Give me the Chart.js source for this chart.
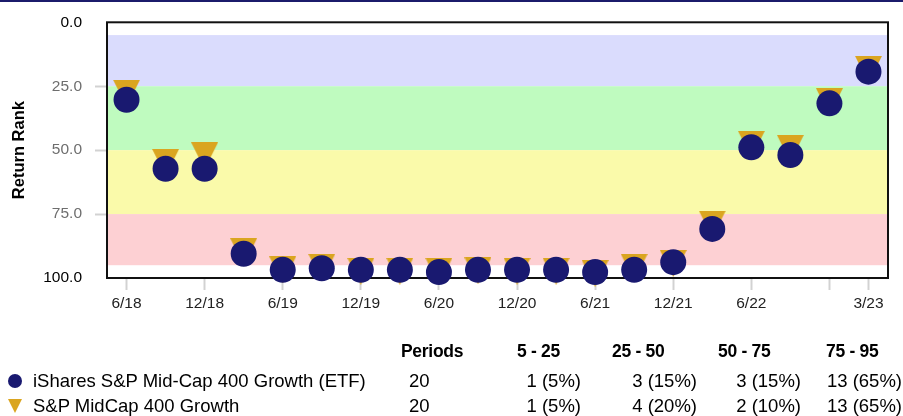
<!DOCTYPE html>
<html>
<head>
<meta charset="utf-8">
<script src="https://cdn.jsdelivr.net/npm/chart.js@4.4.1/dist/chart.umd.min.js"></script>
<style>
  html, body { margin: 0; padding: 0; background: #fff; }
  #wrap { position: relative; width: 903px; height: 416px; overflow: hidden;
          font-family: "Liberation Sans", Arial, sans-serif; }
  #topbar { position: absolute; left: 0; top: 0; width: 903px; height: 2px; background: #1b1b6b; }
  #chart { position: absolute; left: 0; top: 0; }
  .t { position: absolute; white-space: nowrap; line-height: 1; color: #000; }
  .hd { font-weight: bold; font-size: 17.5px; letter-spacing: -0.3px; }
  .rw { font-size: 18.5px; }
  .dot { position: absolute; width: 14px; height: 14px; border-radius: 50%; background: midnightblue; }
  .tri { position: absolute; width: 0; height: 0; border-left: 7px solid transparent;
         border-right: 7px solid transparent; border-top: 14px solid goldenrod; }
</style>
</head>
<body>
<div id="wrap">
  <canvas id="chart" width="903" height="416" style="width:903px;height:416px"></canvas>
  <div id="topbar"></div>
  <div id="table"></div>
</div>
<script>
/********************
 * Data
 ********************/
const periods = ['6/18','9/18','12/18','3/19','6/19','9/19','12/19','3/20','6/20','9/20',
                 '12/20','3/21','6/21','9/21','12/21','3/22','6/22','9/22','12/22','3/23'];
const labelledTicks = ['6/18','12/18','6/19','12/19','6/20','12/20','6/21','12/21','6/22','3/23'];
const markedTicks = labelledTicks.concat(['12/22']);

const etfName = 'iShares S&P Mid-Cap 400 Growth (ETF)';
const etfRank = [30.3, 57.3, 57.3, 90.5, 96.8, 96.2, 96.8, 96.8, 97.7, 96.8,
                 96.8, 96.8, 97.7, 96.8, 93.8, 80.8, 48.9, 51.9, 31.7, 19.3];

const indexName = 'S&P MidCap 400 Growth';
const indexRank = [27.7, 54.8, 52.2, 89.7, 96.8, 95.8, 97.4, 97.4, 97.4, 97.2,
                   97.4, 97.4, 98.2, 95.8, 94.3, 78.9, 47.7, 49.3, 31.0, 18.4];

const bandEdges = [5, 25, 50, 75, 95];
const bucketLabels = ['5 - 25', '25 - 50', '50 - 75', '75 - 95'];
const periodCount = 20;
const etfCounts = [1, 3, 3, 13];
const indexCounts = [1, 4, 2, 13];

/********************
 * Styles
 ********************/
const bandColors = ['#dadcfd', '#bffbbf', '#fafaaa', '#fdd0d3'];
const ETF_COLOR = 'midnightblue';
const INDEX_COLOR = 'goldenrod';

function makeTriangle(w, h, color){
  const c = document.createElement('canvas');
  c.width = w; c.height = h;
  const g = c.getContext('2d');
  g.fillStyle = color;
  g.beginPath();
  g.moveTo(0, 0); g.lineTo(w, 0); g.lineTo(w / 2, h);
  g.closePath();
  g.fill();
  return c;
}

// rank bands + plot frame, drawn under the markers
const bandPlugin = {
  id: 'bands',
  beforeDatasetsDraw(chart){
    const { ctx, chartArea: a, scales: { y } } = chart;
    ctx.save();
    for(let i = 0; i < bandEdges.length - 1; i++){
      const y0 = y.getPixelForValue(bandEdges[i]);
      const y1 = y.getPixelForValue(bandEdges[i + 1]);
      ctx.fillStyle = bandColors[i];
      ctx.fillRect(a.left, y0, a.right - a.left, y1 - y0);
    }
    ctx.strokeStyle = '#111';
    ctx.lineWidth = 2;
    ctx.strokeRect(a.left, a.top, a.right - a.left, a.bottom - a.top);
    ctx.restore();
  }
};

Chart.defaults.font.family = '"Liberation Sans", Arial, sans-serif';

new Chart(document.getElementById('chart'), {
  type: 'line',
  data: {
    labels: periods,
    datasets: [
      {
        label: etfName,
        data: etfRank,
        showLine: false,
        pointRadius: 13,
        pointBorderWidth: 0,
        pointBackgroundColor: ETF_COLOR,
        pointBorderColor: ETF_COLOR,
        clip: false
      },
      {
        label: indexName,
        data: indexRank,
        showLine: false,
        pointRadius: 14,
        pointStyle: makeTriangle(27, 27, INDEX_COLOR),
        clip: false
      }
    ]
  },
  options: {
    responsive: false,
    animation: false,
    events: [],
    devicePixelRatio: 1,
    layout: { padding: { top: 21, right: 7, bottom: 98, left: 0 } },
    plugins: { legend: { display: false }, tooltip: { enabled: false } },
    scales: {
      x: {
        type: 'category',
        offset: true,
        afterFit(scale){ scale.height = 40; },
        border: { display: false },
        grid: {
          offset: false,
          drawOnChartArea: false,
          tickLength: 12,
          tickWidth: 2,
          tickColor: ctx => markedTicks.includes(periods[ctx.index]) ? '#d2d2d2' : 'rgba(0,0,0,0)'
        },
        ticks: {
          autoSkip: false,
          maxRotation: 0,
          padding: 4,
          color: '#222',
          font: { size: 15.5 },
          callback: (v, i) => labelledTicks.includes(periods[i]) ? periods[i] : ''
        }
      },
      y: {
        reverse: true,
        min: 0,
        max: 100,
        afterFit(scale){ scale.width = 107; },
        border: { display: false },
        grid: {
          drawOnChartArea: false,
          tickLength: 12,
          tickWidth: 2,
          tickColor: ctx => (ctx.tick && ctx.tick.value % 100 === 0) ? 'rgba(0,0,0,0)' : '#d2d2d2'
        },
        ticks: {
          stepSize: 25,
          padding: 13,
          font: { size: 15.5 },
          color: ctx => (ctx.tick.value % 100 === 0) ? '#000' : '#6e6e6e',
          callback: v => Number(v).toFixed(1)
        },
        title: {
          display: true,
          text: 'Return Rank',
          color: '#000',
          font: { size: 16.5, weight: 'bold' },
          padding: { top: 10, bottom: 0 }
        }
      }
    }
  },
  plugins: [bandPlugin]
});

/********************
 * Summary table under the chart
 ********************/
function addText(cls, text, left, centerY, size, alignRight){
  const el = document.createElement('div');
  el.className = 't ' + cls;
  el.textContent = text;
  el.style.top = (centerY - 0.49 * size) + 'px';
  if(alignRight) el.style.right = (903 - left) + 'px';
  else el.style.left = left + 'px';
  document.getElementById('table').appendChild(el);
}

const HEAD_Y = 352, ROW1_Y = 381, ROW2_Y = 406;
const headLeft = [517, 612, 718, 826];
const valueRight = [581, 697, 801, 902];

addText('hd', 'Periods', 401, HEAD_Y, 17.5);
bucketLabels.forEach((b, i) => addText('hd', b, headLeft[i], HEAD_Y, 17.5));

function addRow(name, counts, y, markerCls){
  const m = document.createElement('div');
  m.className = markerCls;
  m.style.left = '8px';
  m.style.top = (y - 7) + 'px';
  document.getElementById('table').appendChild(m);
  addText('rw', name, 33, y, 18.5);
  addText('rw', String(periodCount), 409, y, 18.5);
  counts.forEach((c, i) => {
    const pct = Math.round(c / periodCount * 100);
    addText('rw', c + ' (' + pct + '%)', valueRight[i], y, 18.5, true);
  });
}

addRow(etfName, etfCounts, ROW1_Y, 'dot');
addRow(indexName, indexCounts, ROW2_Y, 'tri');
</script>
</body>
</html>
